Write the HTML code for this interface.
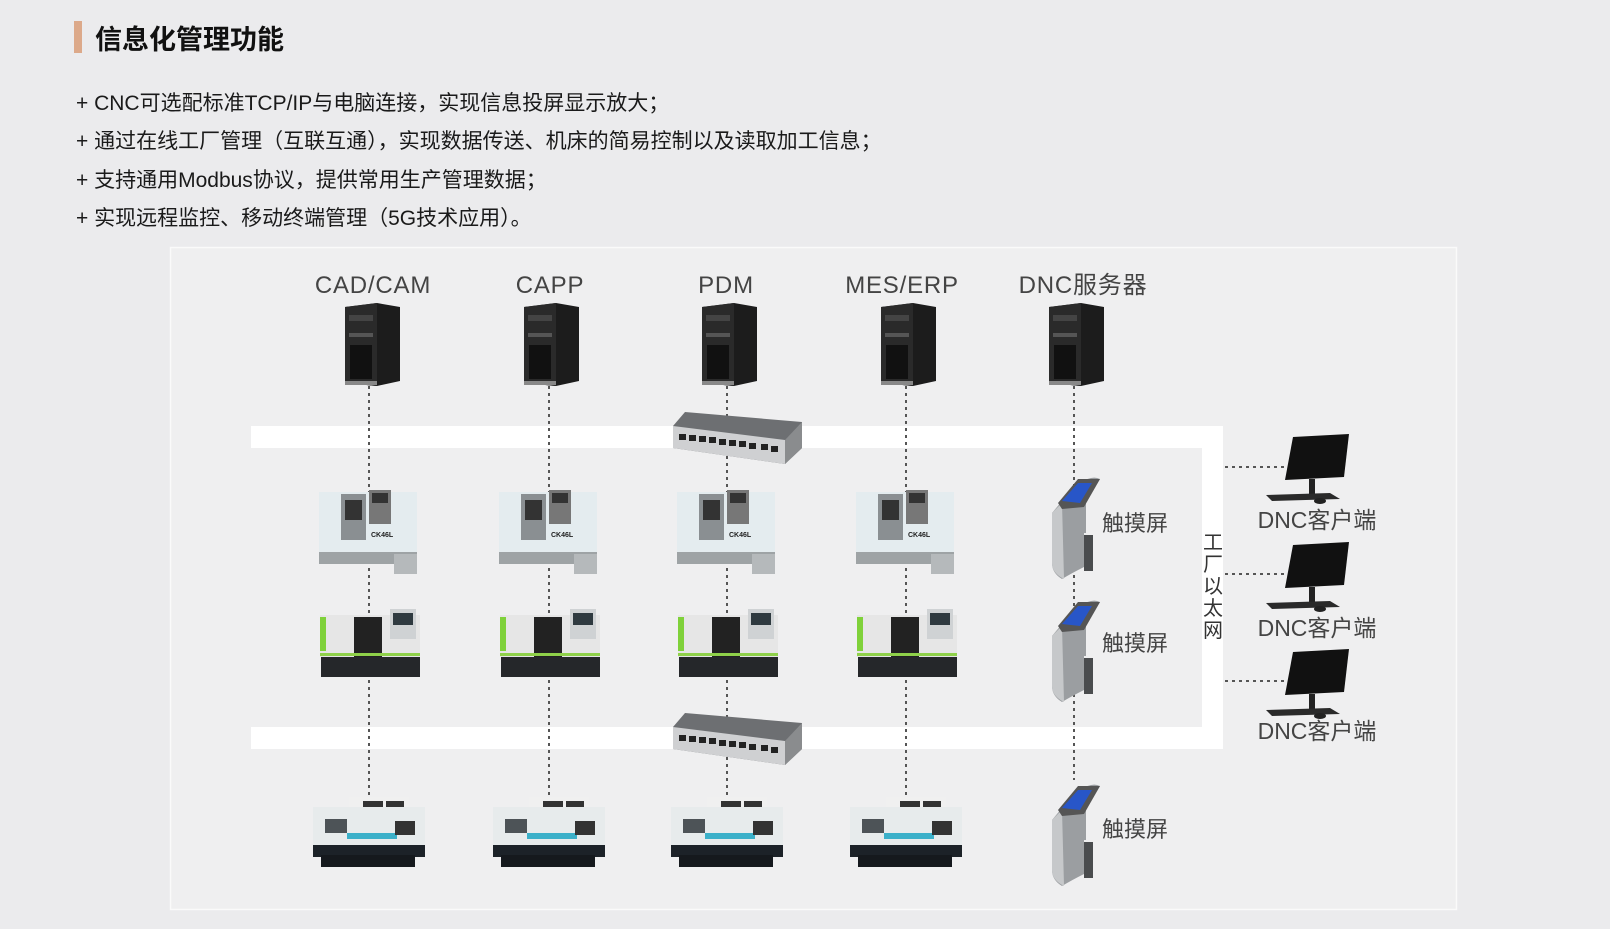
<!DOCTYPE html>
<html><head><meta charset="utf-8"><style>
html,body{margin:0;padding:0;background:#ebebed;width:1610px;height:929px;overflow:hidden;font-family:"Liberation Sans","Noto Sans CJK SC",sans-serif;}
.bar{position:absolute;left:74px;top:21px;width:8px;height:32px;background:#dca98a;}
.title{position:absolute;left:95px;top:18px;font-size:27px;font-weight:bold;color:#111;}
.b{position:absolute;left:76px;font-size:21px;color:#1a1a1a;}
</style></head><body>
<div class="bar"></div>
<div class="title">信息化管理功能</div>
<div class="b" style="top:87px">+ CNC可选配标准TCP/IP与电脑连接，实现信息投屏显示放大；</div>
<div class="b" style="top:125px">+ 通过在线工厂管理（互联互通），实现数据传送、机床的简易控制以及读取加工信息；</div>
<div class="b" style="top:164px">+ 支持通用Modbus协议，提供常用生产管理数据；</div>
<div class="b" style="top:202px">+ 实现远程监控、移动终端管理（5G技术应用）。</div>
<svg width="1610" height="929" style="position:absolute;left:0;top:0" font-family="Liberation Sans, Noto Sans CJK SC, sans-serif">
<defs>
<g id="tower">
 <polygon points="0,4 32,0 55,4 55,78 32,83 0,80" fill="#1c1c1c"/>
 <polygon points="0,4 32,0 32,83 0,80" fill="#2a2a2a"/>
 <rect x="4" y="12" width="24" height="6" fill="#444"/>
 <rect x="4" y="30" width="24" height="4" fill="#555"/>
 <rect x="5" y="42" width="22" height="34" fill="#111"/>
 <rect x="0" y="78" width="32" height="4" fill="#888"/>
</g>
<g id="sw">
 <polygon points="12,0 129,10 129,36 112,52 0,36 0,14" fill="#6d6f72"/>
 <polygon points="0,14 112,28 112,52 0,36" fill="#cfd0d2"/>
 <polygon points="112,28 129,10 129,36 112,52" fill="#8a8c8e"/>
 <g fill="#222"><rect x="6" y="22" width="7" height="6"/><rect x="16" y="23" width="7" height="6"/><rect x="26" y="24" width="7" height="6"/><rect x="36" y="25" width="7" height="6"/><rect x="46" y="27" width="7" height="6"/><rect x="56" y="28" width="7" height="6"/><rect x="66" y="29" width="7" height="6"/><rect x="76" y="31" width="7" height="6"/><rect x="88" y="32" width="7" height="6"/><rect x="98" y="34" width="7" height="6"/></g>
</g>
<g id="m1">
 <rect x="0" y="8" width="98" height="70" fill="#e4ecef"/>
 <rect x="22" y="10" width="25" height="46" fill="#8a8f92"/>
 <g fill="#333"><rect x="26" y="16" width="17" height="20"/></g>
 <rect x="50" y="6" width="22" height="34" fill="#777"/>
 <rect x="53" y="9" width="16" height="10" fill="#333"/>
 <text x="52" y="53" font-size="7" font-weight="bold" fill="#222">CK46L</text>
 <rect x="0" y="68" width="98" height="12" fill="#9ea3a5"/>
 <rect x="75" y="70" width="23" height="20" fill="#b5b9bb"/>
</g>
<g id="m2">
 <rect x="0" y="8" width="100" height="42" fill="#e6e6e6"/>
 <rect x="0" y="10" width="6" height="34" fill="#7fd13a"/>
 <rect x="34" y="10" width="28" height="44" fill="#222"/>
 <rect x="70" y="2" width="26" height="30" fill="#cfd2d4"/>
 <rect x="73" y="6" width="20" height="12" fill="#2f3a40"/>
 <rect x="0" y="46" width="100" height="3" fill="#8fd14a"/>
 <rect x="1" y="50" width="99" height="20" fill="#25272a"/>
</g>
<g id="m3">
 <rect x="36" y="0" width="60" height="20" fill="#f0f0f0"/>
 <g fill="#333"><rect x="50" y="4" width="20" height="8"/><rect x="73" y="4" width="18" height="8"/></g>
 <rect x="0" y="10" width="112" height="38" fill="#e7ebec"/>
 <rect x="12" y="22" width="22" height="14" fill="#4d5357"/>
 <rect x="34" y="36" width="50" height="6" fill="#3bb0c9"/>
 <rect x="82" y="24" width="20" height="14" fill="#333"/>
 <rect x="0" y="48" width="112" height="12" fill="#1c2228"/>
 <rect x="8" y="58" width="94" height="12" fill="#15191d"/>
</g>
<g id="kiosk">
 <path d="M12,28 L30,10 Q42,2 50,6 L36,30 L36,60 L34,60 L34,94 Q22,100 12,106 Q2,100 2,90 L2,40 Z" fill="#9b9ea1"/>
 <path d="M2,40 L12,30 L14,106 Q2,100 2,90Z" fill="#c6c8ca"/>
 <rect x="34" y="62" width="9" height="36" fill="#4a4c4e"/>
 <polygon points="8,30 28,6 50,6 34,34 12,36" fill="#555"/>
 <polygon points="12,28 28,10 42,10 30,30" fill="#2856c8"/>
</g>
<g id="mon">
 <polygon points="31,0 87,-3 82,40 23,43" fill="#111"/>
 <rect x="47" y="42" width="6" height="18" fill="#222"/>
 <polygon points="4,58 68,56 78,62 10,64" fill="#2a2a2a"/>
 <ellipse cx="58" cy="64" rx="6" ry="3" fill="#222"/>
</g>
</defs>
<rect x="170.5" y="247.5" width="1286" height="662" fill="#efeff0" stroke="#fafafa" stroke-width="1.5"/>
<g font-size="24" fill="#444" text-anchor="middle" letter-spacing="0.8">
<text x="373" y="293">CAD/CAM</text><text x="550" y="293">CAPP</text><text x="726" y="293">PDM</text><text x="902" y="293">MES/ERP</text><text x="1083" y="293">DNC服务器</text>
</g>
<path d="M251,426H1223V749H251V727H1202V448H251Z" fill="#fff"/>
<g stroke="#555" stroke-width="2" stroke-dasharray="3,4">
<line x1="369" y1="386" x2="369" y2="800"/><line x1="549" y1="386" x2="549" y2="800"/><line x1="727" y1="386" x2="727" y2="800"/><line x1="906" y1="386" x2="906" y2="800"/><line x1="1074" y1="386" x2="1074" y2="780"/>
<line x1="1225" y1="467" x2="1285" y2="467"/><line x1="1225" y1="574" x2="1285" y2="574"/><line x1="1225" y1="681" x2="1285" y2="681"/>
</g>
<use href="#tower" x="345" y="303"/><use href="#tower" x="524" y="303"/><use href="#tower" x="702" y="303"/><use href="#tower" x="881" y="303"/><use href="#tower" x="1049" y="303"/>
<use href="#sw" x="673" y="412"/><use href="#sw" x="673" y="713"/>
<use href="#m1" x="319" y="484"/><use href="#m1" x="499" y="484"/><use href="#m1" x="677" y="484"/><use href="#m1" x="856" y="484"/>
<use href="#m2" x="320" y="607"/><use href="#m2" x="500" y="607"/><use href="#m2" x="678" y="607"/><use href="#m2" x="857" y="607"/>
<use href="#m3" x="313" y="797"/><use href="#m3" x="493" y="797"/><use href="#m3" x="671" y="797"/><use href="#m3" x="850" y="797"/>
<use href="#kiosk" x="1050" y="473"/><use href="#kiosk" x="1050" y="596"/><use href="#kiosk" x="1050" y="780"/>
<g font-size="22" fill="#444"><text x="1102" y="531">触摸屏</text><text x="1102" y="651">触摸屏</text><text x="1102" y="837">触摸屏</text></g>
<g font-size="20" fill="#333" text-anchor="middle"><text x="1213" y="549">工</text><text x="1213" y="571">厂</text><text x="1213" y="593">以</text><text x="1213" y="615">太</text><text x="1213" y="637">网</text></g>
<use href="#mon" x="1262" y="437"/><use href="#mon" x="1262" y="545"/><use href="#mon" x="1262" y="652"/>
<g font-size="23" fill="#444" text-anchor="middle"><text x="1317" y="528">DNC客户端</text><text x="1317" y="636">DNC客户端</text><text x="1317" y="739">DNC客户端</text></g>
</svg>
</body></html>
